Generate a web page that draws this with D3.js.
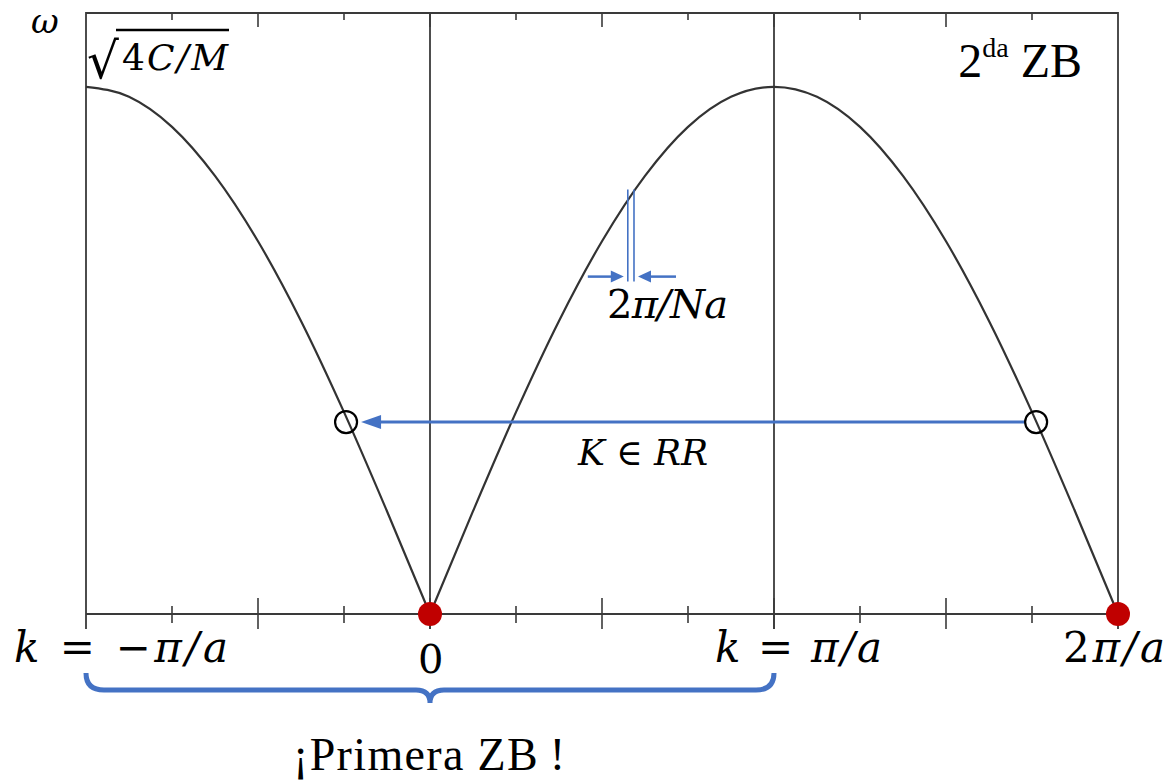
<!DOCTYPE html>
<html>
<head>
<meta charset="utf-8">
<script src="https://cdn.jsdelivr.net/npm/d3@7"></script>
<style>
  body { margin: 0; background: #fff; }
  svg { display: block; }
  .math { font-family: "DejaVu Serif", serif; }
  .roman { font-family: "Liberation Serif", "Times New Roman", serif; }
</style>
</head>
<body>
<div id="chart"></div>
<script>
// k in units of pi/a, omega in units of sqrt(4C/M)
const kValues = [-1, -0.875, -0.75, -0.625, -0.5, -0.375, -0.25, -0.125, 0,
                 0.125, 0.25, 0.375, 0.5, 0.625, 0.75, 0.875, 1,
                 1.125, 1.25, 1.375, 1.5, 1.625, 1.75, 1.875, 2];
const omegaValues = [1, 0.981, 0.924, 0.831, 0.707, 0.556, 0.383, 0.195, 0,
                     0.195, 0.383, 0.556, 0.707, 0.831, 0.924, 0.981, 1,
                     0.981, 0.924, 0.831, 0.707, 0.556, 0.383, 0.195, 0];
const tickK = [-1, -0.75, -0.5, -0.25, 0, 0.25, 0.5, 0.75, 1, 1.25, 1.5, 1.75, 2];
const gridK = [0, 1];
const openK = [-0.244, 1.762];
const openOmega = 0.364;
const zeroK = [0, 2];
const spacingK = [0.575, 0.593];
const spacingOmega = 0.805;
const omegaTop = 1.14;

const W = 1173, H = 782;
const margin = { top: 13, right: 55, bottom: 168, left: 86 };
const blue = "#4472C4", ink = "#3a3a3a";

const svg = d3.select("#chart").append("svg")
  .attr("width", W).attr("height", H);

const x = d3.scaleLinear().domain([-1, 2]).range([margin.left, W - margin.right]);
const y = d3.scaleLinear().domain([0, omegaTop]).range([H - margin.bottom, margin.top]);
const y0 = y(0), yT = y(omegaTop);

// frame (left, top, right) and baseline
svg.append("path")
  .attr("d", `M${x(-1)},${y0 + 15}V${yT}H${x(2)}V${y0 + 15}`)
  .attr("fill", "none").attr("stroke", ink).attr("stroke-width", 1.8);
svg.append("line")
  .attr("x1", x(-1)).attr("x2", x(2)).attr("y1", y0).attr("y2", y0)
  .attr("stroke", ink).attr("stroke-width", 1.8);

// vertical guide lines at 0 and pi/a
svg.selectAll(".grid").data(gridK).join("line")
  .attr("x1", d => x(d)).attr("x2", d => x(d))
  .attr("y1", yT).attr("y2", y0 + 15)
  .attr("stroke", ink).attr("stroke-width", 1.8);

// ticks (bottom crossing, top pointing down)
const isMajor = d => Math.abs(d * 2 - Math.round(d * 2)) < 1e-6;
svg.selectAll(".tb").data(tickK.slice(1, -1)).join("line")
  .attr("x1", d => x(d)).attr("x2", d => x(d))
  .attr("y1", d => isMajor(d) ? y0 - 16 : y0 - 8)
  .attr("y2", d => isMajor(d) ? y0 + 15 : y0 + 9)
  .attr("stroke", ink).attr("stroke-width", 1.6);
svg.selectAll(".tt").data(tickK.slice(1, -1)).join("line")
  .attr("x1", d => x(d)).attr("x2", d => x(d))
  .attr("y1", yT).attr("y2", d => isMajor(d) ? yT + 14 : yT + 7)
  .attr("stroke", ink).attr("stroke-width", 1.6);

// dispersion curve, two branches (cusp at k = 0)
const pts = kValues.map((k, i) => ({ k, w: omegaValues[i] }));
const line = d3.line().x(d => x(d.k)).y(d => y(d.w)).curve(d3.curveMonotoneX);
[pts.filter(d => d.k <= 0), pts.filter(d => d.k >= 0)].forEach(seg => {
  svg.append("path").attr("d", line(seg))
    .attr("fill", "none").attr("stroke", "#333").attr("stroke-width", 2.2);
});

// arrow from outer point back into the first zone
const ay = y(openOmega);
svg.append("line")
  .attr("x1", x(openK[1]) - 11).attr("x2", x(openK[0]) + 30)
  .attr("y1", ay).attr("y2", ay)
  .attr("stroke", blue).attr("stroke-width", 3);
svg.append("path")
  .attr("d", `M${x(openK[0]) + 15},${ay}l20,-7v14z`)
  .attr("fill", blue);

svg.selectAll(".open").data(openK).join("circle")
  .attr("cx", d => x(d)).attr("cy", ay).attr("r", 11)
  .attr("fill", "none").attr("stroke", "#000").attr("stroke-width", 2.2);

svg.selectAll(".zero").data(zeroK).join("circle")
  .attr("cx", d => x(d)).attr("cy", y0).attr("r", 12)
  .attr("fill", "#C00000");

// 2pi/Na spacing marker
svg.selectAll(".sp").data(spacingK).join("line")
  .attr("x1", d => x(d)).attr("x2", d => x(d))
  .attr("y1", y(spacingOmega)).attr("y2", y(spacingOmega) + 92)
  .attr("stroke", blue).attr("stroke-width", 1.6);
const sy = y(spacingOmega) + 87;
const sl = x(spacingK[0]), sr = x(spacingK[1]);
svg.append("line").attr("x1", sl - 40).attr("x2", sl - 14).attr("y1", sy).attr("y2", sy)
  .attr("stroke", blue).attr("stroke-width", 2.5);
svg.append("path").attr("d", `M${sl - 4},${sy}l-13,-6v12z`).attr("fill", blue);
svg.append("line").attr("x1", sr + 42).attr("x2", sr + 14).attr("y1", sy).attr("y2", sy)
  .attr("stroke", blue).attr("stroke-width", 2.5);
svg.append("path").attr("d", `M${sr + 4},${sy}l13,-6v12z`).attr("fill", blue);

const t1 = svg.append("text").attr("class", "math")
  .attr("x", 607).attr("y", sy + 41)
  .attr("font-size", 40).attr("textLength", 121);
t1.append("tspan").text("2");
t1.append("tspan").attr("font-style", "italic").text("π/Na");

// K in RR
const t2 = svg.append("text").attr("class", "math")
  .attr("x", 578).attr("y", ay + 43)
  .attr("font-size", 36).attr("font-style", "italic").attr("textLength", 130);
t2.append("tspan").text("K ");
t2.append("tspan").attr("font-style", "normal").text("∈");
t2.append("tspan").text(" RR");

// axis labels
const labels = [
  { k: -1, parts: [["k", 1], [" = −", 0], ["π/a", 1]], dx: -72, dy: 48, len: 214 },
  { k: 0, parts: [["0", 0]], dx: -12, dy: 59, len: 0 },
  { k: 1, parts: [["k", 1], [" = ", 0], ["π/a", 1]], dx: -59, dy: 48, len: 167 },
  { k: 2, parts: [["2", 0], ["π/a", 1]], dx: -55, dy: 48, len: 102 }
];
labels.forEach(l => {
  const t = svg.append("text").attr("class", "math")
    .attr("x", x(l.k) + l.dx).attr("y", y0 + l.dy)
    .attr("font-size", l.len ? 42 : 40);
  if (l.len) t.attr("textLength", l.len);
  l.parts.forEach(p => t.append("tspan")
    .attr("font-style", p[1] ? "italic" : "normal").text(p[0]));
});

// omega axis label and top value
svg.append("text").attr("class", "math")
  .attr("x", 31).attr("y", 33).attr("font-size", 34).attr("font-style", "italic")
  .text("ω");
svg.append("text").attr("class", "math")
  .attr("x", x(-1) + 1).attr("y", 78).attr("font-size", 50).text("√");
svg.append("line").attr("x1", x(-1) + 30).attr("x2", 229).attr("y1", 30).attr("y2", 30)
  .attr("stroke", "#000").attr("stroke-width", 2.4);
const t3 = svg.append("text").attr("class", "math")
  .attr("x", 122).attr("y", 70).attr("font-size", 36).attr("textLength", 106);
t3.append("tspan").text("4");
t3.append("tspan").attr("font-style", "italic").text("C/M");

// second zone label
const t4 = svg.append("text").attr("class", "roman")
  .attr("x", 1082).attr("y", 77).attr("text-anchor", "end").attr("font-size", 48);
t4.append("tspan").text("2");
t4.append("tspan").attr("font-size", 28).attr("dy", -20).text("da");
t4.append("tspan").attr("dy", 20).text(" ZB");

// brace under first zone
const bx0 = x(-1), bx1 = x(1), bm = x(0);
const bt = y0 + 59, bh = y0 + 76, bb = y0 + 89;
svg.append("path")
  .attr("d", `M${bx0},${bt}Q${bx0},${bh} ${bx0 + 18},${bh}H${bm - 14}Q${bm},${bh} ${bm},${bb}` +
             `Q${bm},${bh} ${bm + 14},${bh}H${bx1 - 18}Q${bx1},${bh} ${bx1},${bt}`)
  .attr("fill", "none").attr("stroke", blue).attr("stroke-width", 5);

svg.append("text").attr("class", "roman")
  .attr("x", 293).attr("y", 770).attr("font-size", 46).attr("textLength", 272)
  .text("¡Primera ZB\u2009!");
</script>
</body>
</html>
